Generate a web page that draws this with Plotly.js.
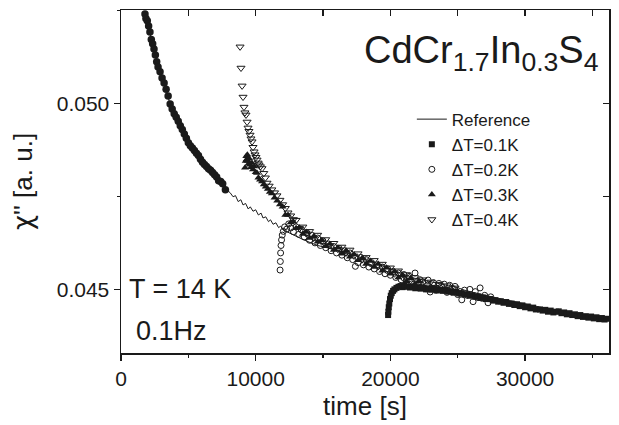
<!DOCTYPE html>
<html>
<head>
<meta charset="utf-8">
<script src="https://cdn.plot.ly/plotly-3.0.1.min.js"></script>
<style>html,body{margin:0;padding:0;background:#fff;}#chart{width:619px;height:425px;}</style>
</head>
<body>
<div id="chart"></div>
<script>
// Reference curve (thin line)
const refX = [1780,2000,2150,2300,2520,2750,3120,3420,3640,4010,4380,4750,5120,5640,6090,6610,7130,7570,7870,8100,8320,8500,8700,8900,9060,9250,9450,9600,9800,10000,10200,10400,10540,10750,10950,11100,11290,11500,11700,11850,12030,12300,12770,13400,14030,14600,15300,16000,16490,17000,17520,18100,18710,19300,19970,20600,21240,21800,22430,23000,23690,24300,24950,25500,26140,26800,27400,28000,28660,29300,29850,30500,31110,31700,32370,33000,33560,34200,34830,35300,35790,36000,36150];
const refY = [0.05240,0.05216,0.05190,0.05163,0.05136,0.05098,0.05063,0.05031,0.04996,0.04969,0.04942,0.04915,0.04888,0.04867,0.04840,0.04821,0.04802,0.04786,0.04767,0.04760,0.04749,0.04752,0.04736,0.04741,0.04727,0.04731,0.04716,0.04722,0.04710,0.04714,0.04700,0.04705,0.04692,0.04695,0.04682,0.04687,0.04675,0.04679,0.04666,0.04670,0.04660,0.04655,0.04648,0.04636,0.04626,0.04618,0.04612,0.04604,0.04600,0.04596,0.04590,0.04581,0.04573,0.04565,0.04556,0.04546,0.04538,0.04530,0.04525,0.04520,0.04515,0.04510,0.04505,0.04498,0.04492,0.04486,0.04480,0.04476,0.04471,0.04467,0.04462,0.04457,0.04452,0.04448,0.04444,0.04440,0.04436,0.04431,0.04426,0.04424,0.04421,0.04426,0.04419];

// Reference measurement points (filled dots, early part)
const refDotX = [1780,1850,1950,2050,2150,2250,2350,2450,2550,2650,2750,2900,3050,3200,3350,3500,3650,3800,3950,4100,4250,4400,4550,4700,4850,5000,5150,5300,5450,5600,5750,5900,6050,6200,6350,6500,6650,6800,6950,7100,7250,7400,7550,7750];
const refDotY = [0.05240,0.05228,0.05222,0.05208,0.05192,0.05172,0.05160,0.05146,0.05130,0.05112,0.05098,0.05085,0.05068,0.05055,0.05038,0.05020,0.04998,0.04985,0.04972,0.04963,0.04952,0.04940,0.04930,0.04918,0.04906,0.04894,0.04886,0.04880,0.04873,0.04866,0.04860,0.04850,0.04842,0.04836,0.04830,0.04824,0.04820,0.04814,0.04808,0.04802,0.04792,0.04790,0.04784,0.04768];

// dT = 0.1 K (filled squares)
const d1X = [19830,19850,19880,19920,19970,20030,20100,20200,20300,20450,20600,20750,20900,21050,21240,21450,21650,21850,22050,22250,22450,22650,22850,23050,23250,23450,23690,23900,24100,24300,24500,24700,24900,25100,25300,25500,25700,25900,26100,26300,26500,26700,26900,27100,27400,27600,27800,28000,28200,28400,28600,28800,29000,29200,29400,29600,29800,30000,30200,30400,30600,30800,31110,31300,31500,31700,31900,32100,32300,32500,32700,32900,33100,33300,33500,33700,33900,34100,34300,34500,34700,34900,35100,35300,35500,35700,35900,36050];
const d1Y = [0.04431,0.04440,0.04452,0.04462,0.04474,0.04483,0.04490,0.04496,0.04500,0.04504,0.04507,0.04509,0.04506,0.04510,0.04507,0.04505,0.04508,0.04503,0.04506,0.04502,0.04504,0.04500,0.04503,0.04499,0.04501,0.04497,0.04499,0.04496,0.04498,0.04494,0.04495,0.04491,0.04493,0.04489,0.04490,0.04486,0.04487,0.04483,0.04484,0.04480,0.04481,0.04477,0.04478,0.04474,0.04474,0.04470,0.04471,0.04467,0.04468,0.04464,0.04466,0.04461,0.04462,0.04458,0.04460,0.04455,0.04457,0.04452,0.04454,0.04449,0.04451,0.04446,0.04446,0.04443,0.04445,0.04440,0.04443,0.04438,0.04440,0.04441,0.04436,0.04438,0.04433,0.04436,0.04431,0.04433,0.04428,0.04431,0.04426,0.04428,0.04424,0.04427,0.04422,0.04425,0.04420,0.04423,0.04419,0.04421];

// dT = 0.2 K (open circles)
const d2X = [11810,11830,11850,11880,11920,11970,12050,12150,12300,12450,12600,12800,13000,13200,13400,13600,13800,14000,14200,14400,14600,14800,15000,15200,15400,15600,15800,16000,16200,16400,16600,16800,17000,17200,17400,17600,17800,18000,18200,18400,18600,18800,19000,19200,19400,19600,19800,20000,20200,20400,20600,20800,21000,21200,21400,21600,21830,22000,22200,22400,22600,22800,22950,23200,23400,23600,23800,24000,24200,24400,24600,24800,25000,25300,25500,25700,25900,26140,26300,26500,26660,26800,27000,27250,27450];
const d2Y = [0.04552,0.04575,0.04598,0.04618,0.04633,0.04646,0.04656,0.04668,0.04662,0.04676,0.04665,0.04655,0.04668,0.04648,0.04660,0.04641,0.04652,0.04632,0.04645,0.04625,0.04638,0.04618,0.04630,0.04612,0.04622,0.04604,0.04615,0.04598,0.04610,0.04592,0.04604,0.04585,0.04598,0.04580,0.04562,0.04572,0.04586,0.04566,0.04580,0.04560,0.04572,0.04555,0.04566,0.04548,0.04560,0.04542,0.04555,0.04538,0.04548,0.04532,0.04544,0.04526,0.04540,0.04521,0.04535,0.04515,0.04544,0.04508,0.04526,0.04520,0.04502,0.04525,0.04493,0.04518,0.04498,0.04516,0.04508,0.04514,0.04492,0.04511,0.04503,0.04508,0.04486,0.04472,0.04498,0.04484,0.04500,0.04467,0.04494,0.04478,0.04504,0.04476,0.04484,0.04464,0.04480];

// dT = 0.3 K (filled triangles up)
const d3X = [9210,9260,9300,9340,9380,9420,9470,9520,9580,9650,9720,9800,9900,10000,10100,10200,10320,10470,10600,10750,10900,11050,11200,11400,11600,11800,12000,12200,12400,12600,12800,13000,13250,13500,13750,14000,14300,14600,14900,15200,15500,15800,16100,16400,16700,17000,17300,17600,17900,18200,18500,18800,19100,19400,19700,20000,20300,20600,20900,21200,21500,21800,22100];
const d3Y = [0.04827,0.04845,0.04858,0.04850,0.04862,0.04845,0.04838,0.04852,0.04835,0.04828,0.04840,0.04822,0.04830,0.04815,0.04813,0.04800,0.04795,0.04790,0.04782,0.04776,0.04770,0.04762,0.04758,0.04746,0.04738,0.04728,0.04722,0.04700,0.04700,0.04680,0.04682,0.04664,0.04666,0.04649,0.04654,0.04638,0.04642,0.04628,0.04632,0.04616,0.04622,0.04606,0.04612,0.04596,0.04604,0.04588,0.04594,0.04578,0.04584,0.04568,0.04576,0.04560,0.04568,0.04550,0.04558,0.04542,0.04548,0.04532,0.04538,0.04522,0.04530,0.04514,0.04522];

// dT = 0.4 K (open triangles down)
const d4X = [8840,8910,8990,9060,9130,9200,9280,9360,9430,9500,9580,9650,9730,9800,9880,9950,10020,10100,10180,10250,10350,10470,10600,10720,10840,11000,11200,11400,11580,11800,12000,12200,12400,12600,12800,13000,13250,13500,13750,14000,14300,14600,14900,15200,15500,15800,16100,16400,16700,17000,17300,17600,17900,18200,18500,18800,19100,19400,19700,20000,20300,20600,20900,21200,21500,21800,22100,22400,22700,23000,23300,23600,23900,24200,24500,24800,25100];
const d4Y = [0.05152,0.05095,0.05047,0.05017,0.04990,0.04975,0.04969,0.04950,0.04934,0.04925,0.04915,0.04905,0.04897,0.04882,0.04870,0.04862,0.04855,0.04848,0.04840,0.04835,0.04830,0.04825,0.04812,0.04800,0.04786,0.04778,0.04768,0.04760,0.04752,0.04740,0.04728,0.04718,0.04706,0.04698,0.04688,0.04686,0.04664,0.04668,0.04650,0.04656,0.04638,0.04646,0.04628,0.04634,0.04618,0.04624,0.04608,0.04614,0.04598,0.04606,0.04590,0.04596,0.04580,0.04586,0.04570,0.04578,0.04562,0.04568,0.04552,0.04558,0.04542,0.04550,0.04532,0.04540,0.04524,0.04532,0.04516,0.04526,0.04510,0.04520,0.04506,0.04514,0.04500,0.04510,0.04494,0.04504,0.04490];

const seriesNames = ['Reference','ΔT=0.1K','ΔT=0.2K','ΔT=0.3K','ΔT=0.4K'];
const xRange = [0, 36230];
const yRange = [0.04329, 0.05251];

const ink = '#1a1a1a';
const fontFam = '"Liberation Sans", Arial, Helvetica, sans-serif';

const traces = [
  {x: refX, y: refY, name: seriesNames[0], mode: 'lines', line: {color: ink, width: 1}, xaxis: 'x2', yaxis: 'y2', legendgroup: 'a'},
  {x: d1X, y: d1Y, name: seriesNames[1], mode: 'markers', marker: {symbol: 'square', size: 6, color: ink}, legendgroup: 'b'},
  {x: d2X, y: d2Y, name: seriesNames[2], mode: 'markers', marker: {symbol: 'circle-open', size: 6, color: ink, line: {width: 1, color: ink}}, legendgroup: 'c'},
  {x: d3X, y: d3Y, name: seriesNames[3], mode: 'markers', marker: {symbol: 'triangle-up', size: 7, color: ink}, legendgroup: 'd'},
  {x: d4X, y: d4Y, name: seriesNames[4], mode: 'markers', marker: {symbol: 'triangle-down-open', size: 7, color: ink, line: {width: 1, color: ink}}, legendgroup: 'e'},
  {x: refDotX, y: refDotY, mode: 'markers', marker: {symbol: 'circle', size: 7.5, color: ink}, showlegend: false}
];

const axBase = {showgrid: false, zeroline: false, showline: true, linecolor: ink, linewidth: 1.5, tickcolor: ink, tickwidth: 1.2};

const layout = {
  width: 619, height: 425,
  margin: {l: 121, r: 10, t: 10, b: 72},
  paper_bgcolor: '#fff', plot_bgcolor: '#fff',
  font: {family: fontFam, color: ink},
  showlegend: true,
  legend: {x: 0.596, xanchor: 'left', y: 0.733, yanchor: 'top', bgcolor: 'rgba(0,0,0,0)', font: {size: 17, family: fontFam, color: ink}, tracegroupgap: 0, traceorder: 'normal', itemsizing: 'trace'},
  xaxis: Object.assign({}, axBase, {range: xRange, dtick: 10000, tick0: 0, ticks: 'outside', ticklen: 6, tickfont: {size: 21}, tickformat: 'd',
    minor: {dtick: 5000, ticks: 'outside', ticklen: 3, tickcolor: ink, tickwidth: 1.2, showgrid: false},
    title: {text: 'time [s]', font: {size: 26}, standoff: 8}}),
  yaxis: Object.assign({}, axBase, {range: yRange, dtick: 0.005, tick0: 0.045, ticks: 'outside', ticklen: 6, tickfont: {size: 21}, tickformat: '.3f',
    minor: {dtick: 0.0025, ticks: 'outside', ticklen: 3, tickcolor: ink, tickwidth: 1.2, showgrid: false},
    title: {text: "<span style=\"font-family:'DejaVu Sans'\">χ</span>'' [a. u.]", font: {size: 26}, standoff: 16}}),
  xaxis2: Object.assign({}, axBase, {range: xRange, overlaying: 'x', side: 'top', dtick: 5000, tick0: 0, ticks: 'inside', ticklen: 6, showticklabels: false}),
  yaxis2: Object.assign({}, axBase, {range: yRange, overlaying: 'y', side: 'right', dtick: 0.0025, tick0: 0.045, ticks: 'inside', ticklen: 6, showticklabels: false}),
  annotations: [
    {text: 'CdCr<sub>1.7</sub>In<sub>0.3</sub>S<sub>4</sub>', xref: 'paper', yref: 'paper', x: 0.494, y: 0.875, xanchor: 'left', yanchor: 'middle', showarrow: false, font: {size: 38, family: fontFam, color: ink}},
    {text: 'T = 14 K', xref: 'paper', yref: 'paper', x: 0.012, y: 0.186, xanchor: 'left', yanchor: 'middle', showarrow: false, font: {size: 27, family: fontFam, color: ink}},
    {text: '0.1Hz', xref: 'paper', yref: 'paper', x: 0.026, y: 0.064, xanchor: 'left', yanchor: 'middle', showarrow: false, font: {size: 27, family: fontFam, color: ink}}
  ]
};

Plotly.newPlot('chart', traces, layout, {staticPlot: true, displayModeBar: false});
</script>
</body>
</html>
